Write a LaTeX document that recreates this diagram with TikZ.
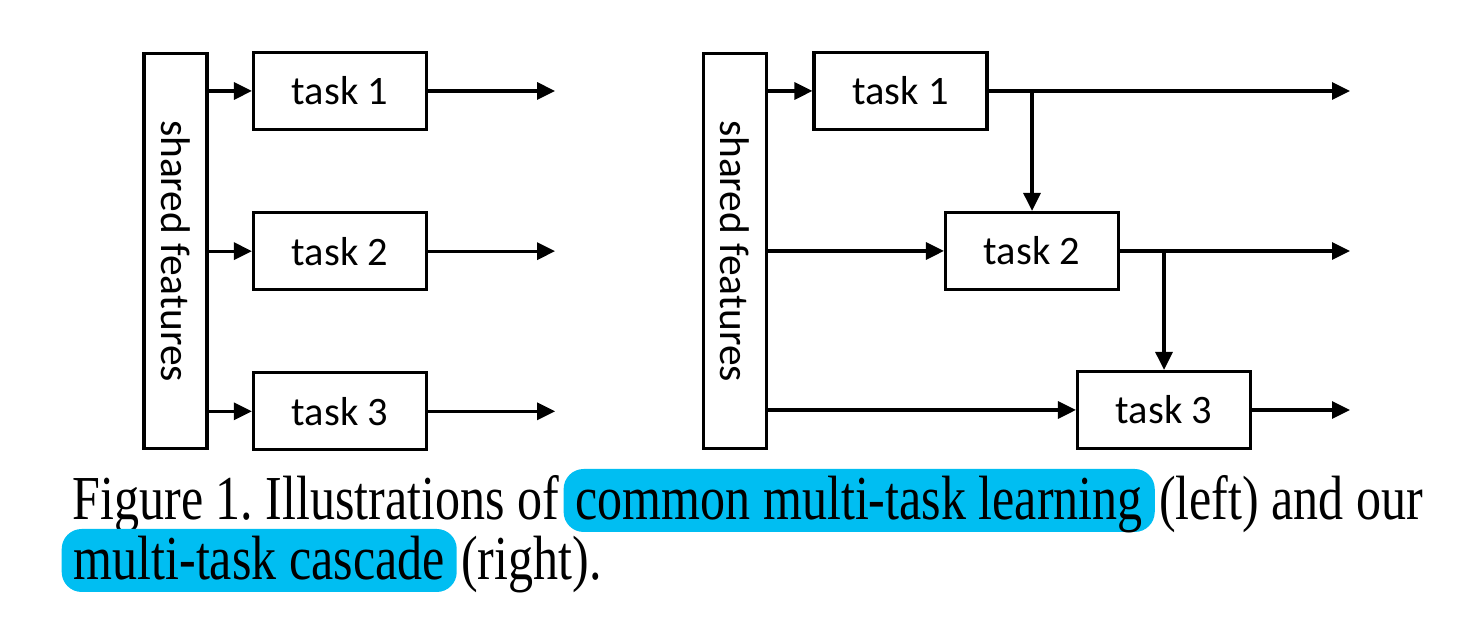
\documentclass[tikz,border=0pt]{standalone}
\usepackage{fontspec}
\setmainfont{Liberation Serif}
\newfontfamily\boxfont{Carlito}
\newfontfamily\capfont[FakeStretch=0.8]{Liberation Serif}
\usepackage{tikz}
\usetikzlibrary{arrows.meta}
\usetikzlibrary{positioning}
\usetikzlibrary{calc}
\definecolor{hlcyan}{RGB}{0,190,242}
\frenchspacing
\tikzset{>={Triangle[length=1.8mm,width=1.7mm]}}
\tikzset{
    task/.style={draw, line width=0.9pt, minimum width=1.73cm, minimum height=0.77cm, inner sep=0pt, font=\boxfont\fontsize{11.5}{14}\selectfont},
    shared/.style={draw, line width=0.9pt, rotate=-90, minimum width=3.95cm, minimum height=0.63cm, inner sep=0pt, font=\boxfont\fontsize{11.8}{14}\selectfont},
    flow/.style={->, line width=0.9pt},
    captxt/.style={anchor=base west, inner sep=0pt, font=\capfont\fontsize{17.8}{21}\selectfont},
    hilite/.style={anchor=base west, fill=hlcyan, rounded corners=0.2cm, inner xsep=0.12cm, inner ysep=0.02cm, text height=0.49cm, text depth=0.1cm, font=\capfont\fontsize{17.8}{21}\selectfont},
}
\begin{document}
\begin{tikzpicture}
	\useasboundingbox (0,0) rectangle (14.7,6.36);
	
	% common multi-task learning
	\node[shared] (sfL) at (1.755,3.85) {shared features};
	\node[task] (tL1) at (3.40,5.45) {task 1};
	\node[task, below=0.8cm of tL1] (tL2) {task 2};
	\node[task, below=0.8cm of tL2] (tL3) {task 3};
	\foreach \i in {1,2,3} {
		\coordinate[right=1.27cm of tL\i] (oL\i);
		\draw[flow] (sfL.north |- tL\i) -- (tL\i);
		\draw[flow] (tL\i) -- (oL\i);
	}
	
	% multi-task cascade
	\node[shared] (sfR) at (7.35,3.85) {shared features};
	\node[task] (tR1) at (9.005,5.45) {task 1};
	\node[task] (tR2) at (10.32,3.85) {task 2};
	\node[task] (tR3) at (11.64,2.26) {task 3};
	\foreach \i in {1,2,3} {
		\coordinate (oR\i) at (13.50,0 |- tR\i);
		\draw[flow] (sfR.north |- tR\i) -- (tR\i);
		\draw[flow] (tR\i) -- (oR\i);
	}
	\draw[flow] (tR2.north |- tR1) -- (tR2);
	\draw[flow] (tR3.north |- tR2) -- (tR3);
	
	% caption
	\node[captxt] (capA) at (0.72,1.16) {Figure 1. Illustrations of};
	\node[hilite] (capB) at ([xshift=0.03cm]capA.base east) {common multi-task learning};
	\node[captxt] (capC) at ([xshift=0.03cm]capB.base east) {(left) and our};
	\node[hilite] (capD) at (0.61,0.56) {multi-task cascade};
	\node[captxt] (capE) at ([xshift=0.03cm]capD.base east) {(right).};
\end{tikzpicture}
\end{document}
